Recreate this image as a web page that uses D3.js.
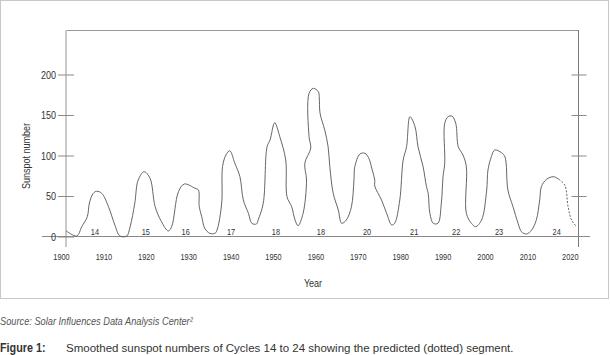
<!DOCTYPE html>
<html><head><meta charset="utf-8">
<script src="https://cdn.jsdelivr.net/npm/d3@7"></script>
<style>
html,body{margin:0;padding:0;background:#fff;}
svg{display:block;}
svg text{font-family:"Liberation Sans Narrow","Arial Narrow","Liberation Sans",Arial,sans-serif;}
</style></head>
<body>
<svg id="chart" width="610" height="355"></svg>
<script>
// ---- data ----
const observedYears = [1901.2,1903.7,1904.9,1906.2,1906.7,1907.6,1908.4,1909.6,1911.2,1912.7,1913.9,1915.5,
  1916.3,1917.4,1918.2,1919.6,1921.0,1922.2,1923.7,1925.3,1926.1,1927.7,1929.1,1931.6,1932.4,1932.6,1933.2,
  1933.9,1935.1,1936.3,1936.8,1937.9,1938.1,1938.9,1939.8,1941.0,1942.2,1943.0,1944.2,1945.0,1946.1,1946.5,
  1947.7,1948.6,1949.3,1950.4,1951.6,1953.0,1953.3,1954.4,1955.2,1955.9,1957.1,1957.9,1957.5,1958.9,1958.5,
  1958.5,1959.5,1960.7,1960.9,1961.1,1962.2,1963.0,1963.4,1964.2,1965.4,1966.2,1967.3,1968.5,1969.1,1969.3,
  1970.5,1971.7,1972.6,1973.4,1974.0,1974.0,1975.6,1976.8,1978.0,1978.7,1979.9,1980.7,1981.5,1982.3,1983.5,
  1984.2,1985.4,1986.2,1986.6,1987.0,1987.8,1988.9,1989.7,1990.1,1990.5,1990.5,1991.3,1992.2,1993.1,1993.7,
  1994.8,1995.6,1995.6,1996.8,1997.8,1999.2,2000.4,2000.7,2001.5,2002.3,2003.9,2004.7,2005.4,2006.6,2007.8,
  2008.6,2009.8,2011.0,2012.1,2012.9,2013.3,2014.5,2016.2,2017.4];
const observedValues = [6.5,0,11.5,23.8,40.7,52.7,55.2,52.7,36.2,13.6,0,0,
  11.5,40.4,69.1,79.4,71.2,36.2,17.7,6.2,11.5,54.7,64.2,58.9,56.8,36.2,23.8,
  9.5,3.3,3.3,7.4,40.4,85.6,100,105.3,89.8,73.2,44.4,28,15.7,14.8,19.8,
  40.4,110.2,118.5,139.9,122.6,93.8,48.5,36.2,19.8,12.7,28,69.1,89.8,108.6,122.6,
  176.2,182.3,178.1,172,151.5,130.9,110.2,85.6,52.7,32.1,15.7,19.8,36.2,69.1,85.6,
  101.2,102.1,95.9,81.5,69.1,61.7,44.4,28,13.6,15.7,44.4,93.8,110.2,147.3,134.9,
  110.2,85.6,60.9,52.7,28,15.7,15.7,40.4,73.2,89.8,139.1,147.3,148.1,139.1,110.2,
  100,85.6,28,15.7,11.5,19.8,56.8,81.5,97.9,106.2,102.8,97.9,56.8,36.2,15.7,
  5.3,2.5,7.4,19.8,44.4,60.9,70,73.2,70];
const predictedYears = [2017.4,2018.8,2019.6,2020.4,2021.6];
const predictedValues = [70,63,36.2,19.8,11.5];

const yearTicks = [1900,1910,1920,1930,1940,1950,1960,1970,1980,1990,2000,2010,2020];
const valueTicks = [0,50,100,150,200];
const cycleNames = ["14","15","16","17","18","18","20","21","22","23","24"];
const cycleYears = [1908.0,1920.0,1929.4,1940.1,1950.7,1961.3,1972.2,1983.3,1993.2,2003.3,2016.9];

const yAxisTitle = "Sunspot number";
const xAxisTitle = "Year";
const sourceText = "Source: Solar Influences Data Analysis Center\u00B2";
const figLabel = "Figure 1:";
const captionText = "Smoothed sunspot numbers of Cycles 14 to 24 showing the predicted (dotted) segment.";

// ---- helpers ----
// emulate a narrow (condensed) face by compressing the glyph run horizontally
function condense(sel, k) {
  sel.each(function () {
    const w = this.getComputedTextLength();
    this.setAttribute("textLength", (w * k).toFixed(2));
    this.setAttribute("lengthAdjust", "spacingAndGlyphs");
  });
}

// ---- drawing ----
const svg = d3.select("#chart");
const x = d3.scaleLinear().domain([1900, 2020]).range([61, 569.8]);
const y = d3.scaleLinear().domain([0, 200]).range([236, 74]);
const frameTop = 30, frameBottom = 247, frameLeft = 66, frameRight = 578.5;
const K = 0.82;

// outer border
svg.append("rect").attr("x",0.5).attr("y",0.5).attr("width",608).attr("height",298)
  .attr("fill","none").attr("stroke","#c8c8c8").attr("stroke-width",1);

// plot frame
svg.append("line").attr("x1",frameLeft).attr("x2",frameRight).attr("y1",frameTop+0.5).attr("y2",frameTop+0.5)
  .attr("stroke","#999").attr("stroke-width",1);
svg.append("line").attr("x1",frameLeft).attr("x2",frameLeft).attr("y1",frameTop).attr("y2",frameBottom)
  .attr("stroke","#c9c9c9").attr("stroke-width",2);
svg.append("line").attr("x1",frameRight).attr("x2",frameRight).attr("y1",frameTop).attr("y2",frameBottom)
  .attr("stroke","#7a7a7a").attr("stroke-width",1);

// zero baseline
svg.append("line").attr("x1",42).attr("x2",590).attr("y1",y(0)+0.5).attr("y2",y(0)+0.5)
  .attr("stroke","#888").attr("stroke-width",1);

// left axis
const yAxisL = svg.append("g").attr("transform",`translate(74,0.5)`)
  .call(d3.axisLeft(y).tickValues(valueTicks).tickSize(16).tickPadding(2));
yAxisL.select(".domain").remove();
yAxisL.selectAll(".tick line").attr("stroke","#8a8a8a");
yAxisL.selectAll(".tick text").attr("font-size",11).attr("fill","#333").attr("font-family",null);
condense(yAxisL.selectAll(".tick text"), K);

// right axis (ticks only)
const yAxisR = svg.append("g").attr("transform",`translate(571.5,0.5)`)
  .call(d3.axisRight(y).tickValues(valueTicks.filter(v=>v>0)).tickSize(15).tickFormat(""));
yAxisR.select(".domain").remove();
yAxisR.selectAll(".tick line").attr("stroke","#8a8a8a");

// bottom axis (labels only)
const xAxis = svg.append("g").attr("transform",`translate(0,254)`)
  .call(d3.axisBottom(x).tickValues(yearTicks).tickSize(0).tickPadding(0).tickFormat(d3.format("d")));
xAxis.select(".domain").remove();
xAxis.selectAll(".tick text").attr("font-size",9).attr("fill","#333").attr("font-family",null);
condense(xAxis.selectAll(".tick text"), K);

// cycle labels
const cyc = svg.append("g").selectAll("text").data(cycleNames).join("text")
  .attr("x",(d,i)=>x(cycleYears[i])).attr("y",235)
  .attr("text-anchor","middle").attr("font-size",9).attr("fill","#333").text(d=>d);
condense(cyc, K);

// curves
const line = d3.line().x(d=>x(d[0])).y(d=>y(d[1])).curve(d3.curveCatmullRom.alpha(0.5));
svg.append("path").datum(observedYears.map((yr,i)=>[yr,observedValues[i]]))
  .attr("d",line).attr("fill","none").attr("stroke","#555").attr("stroke-width",0.9)
  .attr("stroke-linejoin","round");
svg.append("path").datum(predictedYears.map((yr,i)=>[yr,predictedValues[i]]))
  .attr("d",line).attr("fill","none").attr("stroke","#555").attr("stroke-width",0.9)
  .attr("stroke-dasharray","2,1.5");

// axis titles
const yt = svg.append("text").attr("transform","translate(30,156) rotate(-90)")
  .attr("text-anchor","middle").attr("font-size",11).attr("fill","#333").text(yAxisTitle);
condense(yt, K);
const xt = svg.append("text").attr("x",313).attr("y",287)
  .attr("text-anchor","middle").attr("font-size",11).attr("fill","#333").text(xAxisTitle);
condense(xt, K);

// source
const src = svg.append("text").attr("x",0).attr("y",325)
  .attr("font-size",11).attr("font-style","italic").attr("fill","#555").text(sourceText);
condense(src, 0.84);

// caption
const fl = svg.append("text").attr("x",0).attr("y",352)
  .attr("font-size",12).attr("font-weight","bold").attr("fill","#333").text(figLabel);
condense(fl, 0.9);
svg.append("text").attr("x",66).attr("y",352)
  .style("font-family","'Liberation Sans',Arial,sans-serif")
  .attr("font-size",11.5).attr("fill","#333").text(captionText);
</script>
</body></html>
